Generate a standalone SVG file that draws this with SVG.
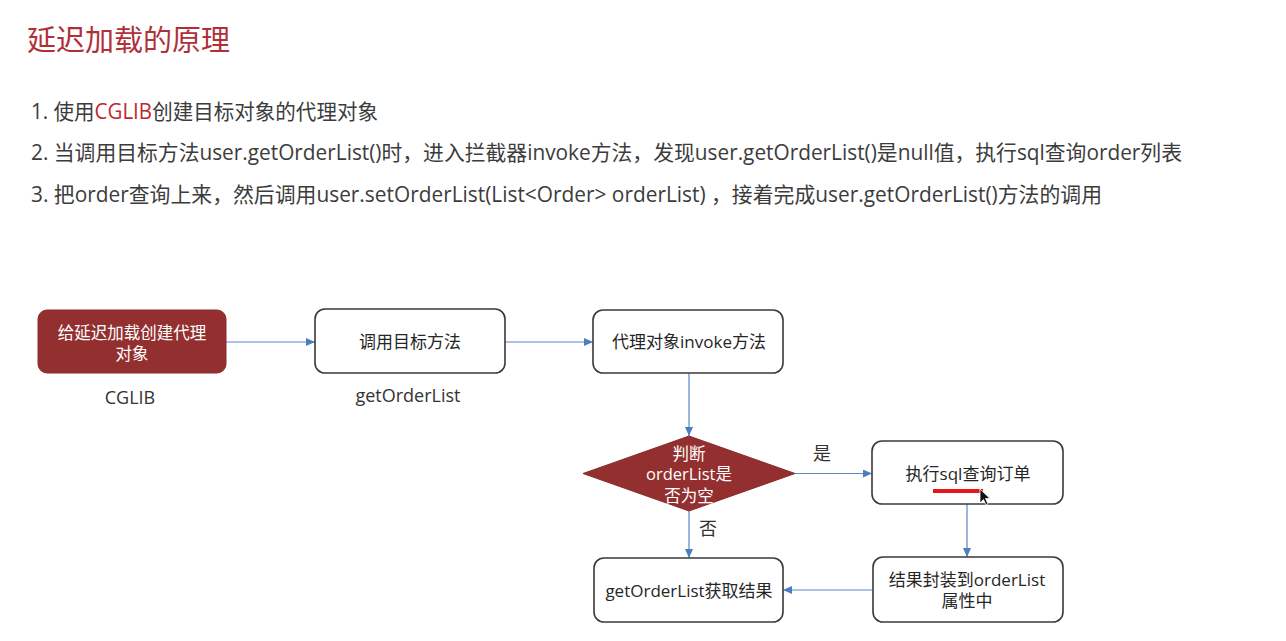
<svg xmlns="http://www.w3.org/2000/svg" width="1286" height="641" viewBox="0 0 1286 641">
<style>
text{font-family:"Open Sans","Noto Sans CJK SC",sans-serif}
.title{font-size:29px;fill:#b0303a}
.li{font-size:21px;fill:#3c3c3c}
.red{fill:#c0272d}
.box{fill:#ffffff;stroke:#3a3a3a;stroke-width:1.6}
.dark{fill:#93302f;stroke:#8a2c2c;stroke-width:1}
.nt{font-size:17px;fill:#262626;text-anchor:middle}
.wt{font-size:16.5px;fill:#ffffff;text-anchor:middle}
.lbl{font-size:18px;fill:#333333;text-anchor:middle}
.conn{stroke:#5b87c5;stroke-width:1.2;fill:none;marker-end:url(#ah)}
</style>
<defs>
<marker id="ah" markerUnits="userSpaceOnUse" markerWidth="9" markerHeight="8" refX="9" refY="4" orient="auto">
<path d="M0,0 L9,4 L0,8 z" fill="#4a7ebd"/>
</marker>
</defs>
<rect width="1286" height="641" fill="#ffffff"/>
<g id="header">
<text class="title" x="27" y="51">延迟加载的原理</text>
<text class="li" x="31" y="118.5" textLength="347" lengthAdjust="spacingAndGlyphs">1. 使用<tspan class="red">CGLIB</tspan>创建目标对象的代理对象</text>
<text class="li" x="31" y="160" textLength="1151" lengthAdjust="spacingAndGlyphs">2. 当调用目标方法user.getOrderList()时，进入拦截器invoke方法，发现user.getOrderList()是null值，执行sql查询order列表</text>
<text class="li" x="31" y="201.5" textLength="1071" lengthAdjust="spacingAndGlyphs">3. 把order查询上来，然后调用user.setOrderList(List&lt;Order&gt; orderList) ，接着完成user.getOrderList()方法的调用</text>
</g>
<g id="connectors">
<path class="conn" d="M226 342 H315"/>
<path class="conn" d="M505 342 H593"/>
<path class="conn" d="M689 373 V436"/>
<path class="conn" d="M795 473.5 H872"/>
<path class="conn" d="M967 504 V557"/>
<path class="conn" d="M873 590 H783"/>
<path class="conn" d="M689 511 V558"/>
</g>
<g id="node-proxy">
<rect class="dark" x="38" y="310" width="188" height="63" rx="9"/>
<text class="wt" x="132" y="338.5">给延迟加载创建代理</text>
<text class="wt" x="132" y="359.5">对象</text>
</g>
<text class="lbl" x="130" y="404">CGLIB</text>
<g id="node-call">
<rect class="box" x="315" y="309" width="190" height="64" rx="10"/>
<text class="nt" x="410" y="348">调用目标方法</text>
</g>
<text class="lbl" x="408" y="402">getOrderList</text>
<g id="node-invoke">
<rect class="box" x="593" y="310" width="190" height="63" rx="10"/>
<text class="nt" x="689" y="348">代理对象invoke方法</text>
</g>
<g id="node-decision">
<polygon class="dark" points="583,473.5 689,436 795,473.5 689,511"/>
<text class="wt" x="689" y="459.5">判断</text>
<text class="wt" x="689" y="480">orderList是</text>
<text class="wt" x="689" y="501.5">否为空</text>
</g>
<text class="lbl" x="822" y="459.5">是</text>
<text class="lbl" x="708" y="534.5">否</text>
<g id="node-sql">
<rect class="box" x="872" y="441" width="191" height="63" rx="10"/>
<text class="nt" x="968" y="479.5">执行sql查询订单</text>
<line x1="933" y1="491" x2="983" y2="491" stroke="#e8141c" stroke-width="4"/>
<path d="M980 489 L980 503 L983.5 499.5 L986 505 L988 504 L985.5 498.5 L990 498.5 z" fill="#111111" stroke="#ffffff" stroke-width="0.8"/>
</g>
<g id="node-wrap">
<rect class="box" x="873" y="557" width="190" height="65" rx="10"/>
<text class="nt" x="967" y="585.5">结果封装到orderList</text>
<text class="nt" x="967" y="606.5">属性中</text>
</g>
<g id="node-result">
<rect class="box" x="594" y="558" width="189" height="64" rx="10"/>
<text class="nt" x="689" y="596.5">getOrderList获取结果</text>
</g>
</svg>
